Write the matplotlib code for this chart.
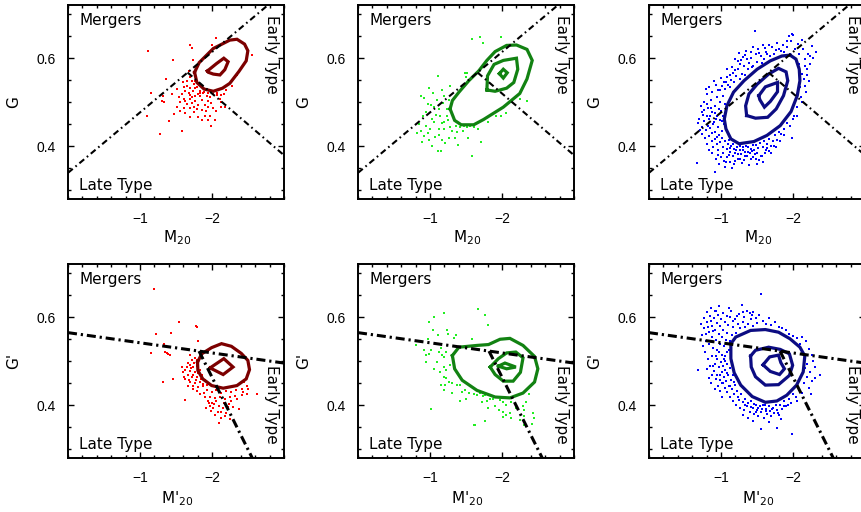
import numpy as np
import matplotlib.pyplot as plt

plt.rcParams['font.family'] = 'DejaVu Sans'
plt.rcParams['lines.scale_dashes'] = False

# ---------------- data (M20, G) ----------------
# top row: G vs M20
red_top_pts = [
    (-1.11, 0.617), (-1.70, 0.629), (-1.72, 0.623), (-2.05, 0.645), (-2.00, 0.630), (-1.46, 0.596),
    (-1.74, 0.596), (-2.45, 0.633), (-2.56, 0.607), (-2.35, 0.562), (-1.36, 0.553), (-1.15, 0.520),
    (-1.30, 0.502), (-1.34, 0.501), (-1.32, 0.515), (-1.45, 0.519), (-1.40, 0.457), (-1.58, 0.436),
    (-1.28, 0.429), (-2.04, 0.460), (-1.10, 0.468), (-1.68, 0.571), (-1.69, 0.558), (-1.72, 0.549),
    (-1.75, 0.541), (-1.65, 0.538), (-1.70, 0.532), (-1.79, 0.534), (-1.84, 0.526), (-1.74, 0.525),
    (-1.63, 0.526), (-1.58, 0.519), (-1.68, 0.521), (-1.81, 0.519), (-1.88, 0.520), (-1.93, 0.515),
    (-1.97, 0.511), (-2.02, 0.518), (-2.07, 0.517), (-2.12, 0.517), (-2.16, 0.519), (-2.11, 0.508),
    (-1.54, 0.511), (-1.61, 0.508), (-1.70, 0.508), (-1.77, 0.504), (-1.86, 0.505), (-1.95, 0.504),
    (-1.56, 0.500), (-1.65, 0.496), (-1.72, 0.498), (-1.81, 0.495), (-1.90, 0.495), (-1.99, 0.498),
    (-1.52, 0.489), (-1.61, 0.487), (-1.69, 0.487), (-1.79, 0.485), (-1.92, 0.481), (-1.75, 0.477),
    (-1.56, 0.480), (-1.63, 0.475), (-1.90, 0.470), (-1.97, 0.470), (-2.12, 0.490), (-2.18, 0.489),
    (-2.06, 0.481), (-1.47, 0.474), (-1.81, 0.466), (-2.13, 0.500), (-1.84, 0.515), (-1.77, 0.515),
    (-1.72, 0.513), (-1.76, 0.549), (-1.65, 0.549), (-1.61, 0.534), (-2.07, 0.520), (-1.89, 0.524),
    (-1.94, 0.520), (-1.77, 0.532), (-1.83, 0.522), (-1.69, 0.516), (-1.63, 0.504), (-1.95, 0.490),
    (-1.86, 0.483), (-1.75, 0.490), (-2.02, 0.487), (-1.70, 0.467), (-1.86, 0.459), (-1.99, 0.447),
    (-1.94, 0.460), (-2.20, 0.528), (-2.28, 0.537), (-1.60, 0.545), (-1.52, 0.530),
]
red_top_outer = [
    (-1.758, 0.568), (-1.822, 0.590), (-2.018, 0.622), (-2.247, 0.641), (-2.347, 0.643), (-2.452, 0.632),
    (-2.498, 0.617), (-2.475, 0.594), (-2.374, 0.570), (-2.247, 0.543), (-2.146, 0.532), (-2.018, 0.525),
    (-1.890, 0.530), (-1.790, 0.545),
]
red_top_inner = [
    (-1.936, 0.571), (-2.064, 0.588), (-2.164, 0.600), (-2.224, 0.592), (-2.178, 0.574), (-2.110, 0.562),
    (-2.018, 0.564), (-1.950, 0.568),
]

green_top_pts = [
    (-1.58, 0.644), (-1.69, 0.648), (-1.74, 0.634), (-1.98, 0.648), (-2.35, 0.620), (-1.11, 0.559),
    (-1.52, 0.566), (-1.28, 0.536), (-1.17, 0.529), (-0.98, 0.532), (-0.91, 0.509), (-0.97, 0.496),
    (-1.02, 0.494), (-1.06, 0.489), (-1.20, 0.515), (-1.26, 0.506), (-1.13, 0.485), (-1.08, 0.471),
    (-1.14, 0.468), (-1.20, 0.456), (-1.05, 0.456), (-0.94, 0.447), (-0.87, 0.434), (-0.92, 0.423),
    (-0.89, 0.411), (-0.99, 0.414), (-1.07, 0.421), (-1.13, 0.426), (-1.17, 0.414), (-1.21, 0.408),
    (-1.26, 0.419), (-1.31, 0.434), (-1.37, 0.432), (-1.42, 0.444), (-1.47, 0.447), (-1.52, 0.445),
    (-1.56, 0.447), (-1.61, 0.443), (-1.36, 0.447), (-1.28, 0.444), (-1.11, 0.389), (-1.15, 0.389),
    (-1.39, 0.404), (-1.58, 0.378), (-1.71, 0.410), (-1.92, 0.468), (-1.98, 0.468), (-2.05, 0.476),
    (-2.25, 0.508), (-2.35, 0.504), (-1.81, 0.455), (-0.88, 0.515), (-1.49, 0.566), (-1.50, 0.558),
    (-0.90, 0.470), (-1.00, 0.440), (-1.12, 0.440), (-1.23, 0.470), (-1.18, 0.498), (-1.24, 0.484),
    (-0.95, 0.478), (-1.03, 0.463), (-0.97, 0.431), (-1.03, 0.402), (-1.16, 0.452), (-1.25, 0.459),
    (-1.10, 0.505), (-1.04, 0.520), (-0.85, 0.450), (-1.46, 0.435), (-1.66, 0.440), (-1.53, 0.418),
    (-1.35, 0.420), (-1.19, 0.440), (-0.82, 0.430),
]
green_top_outer = [
    (-1.279, 0.485), (-1.342, 0.459), (-1.434, 0.449), (-1.607, 0.449), (-1.744, 0.461), (-2.018, 0.489),
    (-2.247, 0.520), (-2.347, 0.553), (-2.420, 0.595), (-2.347, 0.620), (-2.201, 0.630), (-2.064, 0.629),
    (-1.904, 0.615), (-1.790, 0.595), (-1.676, 0.571), (-1.539, 0.549), (-1.402, 0.523), (-1.311, 0.504),
]
green_top_mid = [
    (-1.790, 0.528), (-1.799, 0.560), (-1.890, 0.586), (-2.018, 0.595), (-2.201, 0.600), (-2.219, 0.575),
    (-2.164, 0.545), (-2.064, 0.532), (-1.904, 0.525),
]
green_top_inner = [(-1.963, 0.565), (-2.018, 0.575), (-2.073, 0.567), (-2.018, 0.555)]

blue_top_pts = [
    # left side
    (-0.68, 0.452), (-0.70, 0.463), (-0.73, 0.445), (-0.75, 0.471), (-0.77, 0.500), (-0.79, 0.530),
    (-0.80, 0.518), (-0.82, 0.487), (-0.83, 0.462), (-0.85, 0.441), (-0.86, 0.505), (-0.88, 0.523),
    (-0.88, 0.478), (-0.90, 0.455), (-0.91, 0.432), (-0.92, 0.492), (-0.93, 0.540), (-0.94, 0.512),
    (-0.95, 0.468), (-0.96, 0.445), (-0.97, 0.425), (-0.98, 0.500), (-0.99, 0.527), (-1.00, 0.481),
    (-1.01, 0.458), (-1.02, 0.436), (-1.03, 0.515), (-1.04, 0.547), (-1.05, 0.497), (-0.74, 0.429),
    (-0.78, 0.418), (-0.81, 0.405), (-0.84, 0.423), (-0.87, 0.412), (-0.89, 0.398), (-0.92, 0.416),
    (-0.94, 0.405), (-0.96, 0.392), (-0.99, 0.410), (-1.01, 0.420), (-1.03, 0.398), (-1.06, 0.531),
    (-1.08, 0.558), (-1.10, 0.540), (-1.00, 0.555), (-0.90, 0.548), (-0.84, 0.535), (-0.72, 0.492),
    (-0.76, 0.482), (-0.80, 0.470), (-0.86, 0.488), (-0.91, 0.475), (-0.97, 0.485), (-1.03, 0.470),
    (-1.04, 0.450), (-0.98, 0.460), (-0.93, 0.463), (-0.87, 0.430), (-0.82, 0.447), (-0.79, 0.437),
    (-0.71, 0.437), (-0.89, 0.451), (-0.85, 0.468), (-0.81, 0.497), (-0.77, 0.458), (-0.73, 0.478),
    (-0.94, 0.421), (-0.96, 0.529),
    # bottom side
    (-1.06, 0.412), (-1.08, 0.395), (-1.10, 0.405), (-1.12, 0.387), (-1.14, 0.400), (-1.16, 0.378),
    (-1.18, 0.395), (-1.20, 0.386), (-1.22, 0.398), (-1.24, 0.372), (-1.26, 0.392), (-1.28, 0.382),
    (-1.30, 0.398), (-1.32, 0.370), (-1.34, 0.388), (-1.36, 0.378), (-1.38, 0.398), (-1.40, 0.386),
    (-1.42, 0.395), (-1.44, 0.375), (-1.46, 0.392), (-1.48, 0.403), (-1.50, 0.384), (-1.52, 0.396),
    (-1.54, 0.408), (-1.56, 0.378), (-1.58, 0.398), (-1.60, 0.412), (-1.62, 0.392), (-1.64, 0.405),
    (-1.66, 0.417), (-1.69, 0.400), (-1.72, 0.412), (-1.75, 0.425), (-1.78, 0.415), (-1.81, 0.432),
    (-1.84, 0.428), (-1.88, 0.440), (-1.92, 0.452), (-1.96, 0.447), (-2.00, 0.463), (-2.05, 0.470),
    (-1.09, 0.375), (-1.13, 0.365), (-1.05, 0.353), (-1.07, 0.364), (-0.91, 0.342), (-1.19, 0.368),
    (-1.23, 0.383), (-1.29, 0.362), (-1.33, 0.378), (-1.37, 0.387), (-1.41, 0.372), (-1.47, 0.382),
    (-1.50, 0.361), (-1.57, 0.378), (-1.53, 0.370), (-1.61, 0.385), (-1.67, 0.390), (-1.73, 0.402),
    (-1.11, 0.415), (-1.17, 0.405), (-1.27, 0.400), (-1.35, 0.402), (-1.45, 0.403), (-0.67, 0.363),
    (-1.00, 0.375), (-1.03, 0.385), (-0.96, 0.380), (-1.15, 0.352), (-1.39, 0.358),
    (-0.83, 0.392), (-0.88, 0.384), (-0.93, 0.372), (-0.97, 0.361), (-1.04, 0.367), (-1.11, 0.381),
    (-1.18, 0.359), (-1.26, 0.371), (-1.31, 0.391), (-1.43, 0.389), (-1.49, 0.372), (-1.59, 0.365),
    (-1.64, 0.396), (-1.70, 0.384), (-1.77, 0.398), (-1.82, 0.412), (-1.87, 0.425), (-1.12, 0.396),
    (-1.21, 0.391),
    # upper side
    (-1.12, 0.535), (-1.14, 0.551), (-1.16, 0.566), (-1.18, 0.545), (-1.20, 0.598), (-1.21, 0.560),
    (-1.23, 0.594), (-1.24, 0.575), (-1.26, 0.553), (-1.27, 0.586), (-1.29, 0.565), (-1.31, 0.603),
    (-1.32, 0.583), (-1.34, 0.562), (-1.36, 0.598), (-1.38, 0.575), (-1.39, 0.590), (-1.41, 0.601),
    (-1.43, 0.580), (-1.45, 0.583), (-1.47, 0.662), (-1.48, 0.609), (-1.50, 0.592), (-1.53, 0.611),
    (-1.55, 0.605), (-1.57, 0.590), (-1.60, 0.599), (-1.62, 0.615), (-1.64, 0.609), (-1.66, 0.629),
    (-1.68, 0.604), (-1.71, 0.626), (-1.73, 0.609), (-1.76, 0.618), (-1.80, 0.622), (-1.83, 0.617),
    (-1.86, 0.630), (-1.88, 0.614), (-1.92, 0.625), (-1.95, 0.650), (-1.97, 0.639), (-1.98, 0.656),
    (-2.00, 0.652), (-2.03, 0.620), (-1.25, 0.611), (-1.35, 0.616), (-1.15, 0.580), (-1.09, 0.575),
    (-1.44, 0.625), (-1.58, 0.630), (-1.01, 0.538), (-1.07, 0.546), (-1.13, 0.562), (-1.19, 0.573),
    (-1.28, 0.597), (-1.33, 0.607), (-1.42, 0.613), (-1.52, 0.620), (-1.61, 0.624), (-1.78, 0.634),
    (-1.91, 0.640),
    # right side
    (-2.07, 0.632), (-2.12, 0.641), (-2.14, 0.620), (-2.16, 0.598), (-2.19, 0.575), (-2.21, 0.609),
    (-2.23, 0.586), (-2.26, 0.628), (-2.32, 0.614), (-2.15, 0.553), (-2.18, 0.523), (-2.12, 0.500),
    (-2.05, 0.490), (-2.10, 0.535), (-2.13, 0.565), (-2.28, 0.600), (-2.08, 0.610), (-2.22, 0.548),
    (-2.02, 0.468), (-1.99, 0.420), (-2.09, 0.588), (-2.17, 0.582), (-2.24, 0.604), (-2.20, 0.562),
    (-2.17, 0.537), (-2.11, 0.512),
]
blue_top_outer = [
    (-1.959, 0.607), (-2.041, 0.598), (-2.087, 0.575), (-2.096, 0.549), (-2.059, 0.515), (-1.973, 0.479),
    (-1.822, 0.447), (-1.639, 0.425), (-1.457, 0.411), (-1.251, 0.406), (-1.137, 0.417), (-1.068, 0.440),
    (-1.046, 0.462), (-1.082, 0.492), (-1.174, 0.523), (-1.320, 0.549), (-1.502, 0.575), (-1.685, 0.594),
    (-1.845, 0.605),
]
blue_top_mid = [
    (-1.356, 0.470), (-1.342, 0.492), (-1.388, 0.519), (-1.502, 0.541), (-1.662, 0.564), (-1.799, 0.577),
    (-1.904, 0.569), (-1.927, 0.549), (-1.868, 0.515), (-1.767, 0.485), (-1.648, 0.466), (-1.479, 0.464),
]
blue_top_inner = [
    (-1.525, 0.515), (-1.616, 0.535), (-1.785, 0.545), (-1.785, 0.524), (-1.685, 0.502), (-1.603, 0.489),
    (-1.539, 0.506),
]

# bottom row: G' vs M'20
red_bot_pts = [
    (-1.20, 0.664), (-1.54, 0.589), (-1.78, 0.581), (-1.79, 0.577), (-1.22, 0.562), (-1.43, 0.564),
    (-1.81, 0.547), (-1.15, 0.519), (-1.37, 0.519), (-1.41, 0.514), (-1.65, 0.529), (-1.32, 0.452),
    (-1.46, 0.459), (-1.63, 0.412), (-2.63, 0.426), (-2.10, 0.359), (-2.04, 0.378), (-2.38, 0.391),
    (-1.72, 0.502), (-1.75, 0.496), (-1.69, 0.491), (-1.65, 0.486), (-1.74, 0.486), (-1.79, 0.489),
    (-1.63, 0.480), (-1.70, 0.478), (-1.77, 0.476), (-1.84, 0.481), (-1.66, 0.468), (-1.72, 0.465),
    (-1.79, 0.465), (-1.86, 0.468), (-1.70, 0.453), (-1.77, 0.450), (-1.84, 0.453), (-1.90, 0.457),
    (-1.74, 0.444), (-1.81, 0.441), (-1.88, 0.444), (-1.61, 0.465), (-1.60, 0.476), (-1.68, 0.457),
    (-1.79, 0.502), (-1.93, 0.435), (-2.00, 0.431), (-2.06, 0.435), (-2.13, 0.427), (-2.20, 0.433),
    (-2.27, 0.431), (-2.34, 0.435), (-2.41, 0.438), (-2.48, 0.444), (-2.45, 0.453), (-1.97, 0.420),
    (-2.04, 0.416), (-2.11, 0.420), (-2.18, 0.414), (-2.25, 0.418), (-2.32, 0.421), (-2.41, 0.423),
    (-1.96, 0.405), (-2.03, 0.403), (-2.10, 0.398), (-2.16, 0.406), (-2.23, 0.403), (-2.29, 0.397),
    (-2.13, 0.386), (-2.20, 0.383), (-1.97, 0.398), (-1.89, 0.427), (-1.34, 0.539), (-1.39, 0.516),
    (-1.35, 0.520), (-1.58, 0.486), (-1.67, 0.497), (-1.71, 0.484), (-1.62, 0.459), (-1.74, 0.470),
    (-1.80, 0.473), (-1.78, 0.458), (-1.85, 0.460), (-1.87, 0.449), (-1.93, 0.447), (-1.73, 0.438),
    (-1.79, 0.432), (-1.84, 0.425), (-1.90, 0.418), (-1.95, 0.411), (-2.00, 0.405), (-2.06, 0.409),
    (-2.15, 0.395), (-2.22, 0.396), (-2.27, 0.411), (-2.35, 0.414), (-2.43, 0.430), (-2.48, 0.426),
    (-2.50, 0.437), (-2.02, 0.395), (-2.08, 0.385), (-2.18, 0.376), (-2.25, 0.370), (-1.98, 0.388),
    (-1.91, 0.395), (-2.12, 0.372), (-1.66, 0.445), (-1.70, 0.515), (-1.76, 0.508),
]
red_bot_outer = [
    (-1.799, 0.498), (-1.858, 0.517), (-1.995, 0.531), (-2.132, 0.540), (-2.269, 0.534), (-2.406, 0.518),
    (-2.498, 0.502), (-2.521, 0.481), (-2.475, 0.460), (-2.347, 0.445), (-2.155, 0.439), (-1.995, 0.445),
    (-1.872, 0.460), (-1.804, 0.479),
]
red_bot_inner = [(-1.973, 0.485), (-2.164, 0.506), (-2.292, 0.487), (-2.155, 0.470)]

green_bot_pts = [
    (-1.19, 0.610), (-1.05, 0.600), (-0.99, 0.590), (-1.67, 0.619), (-1.77, 0.604), (-1.81, 0.583),
    (-1.24, 0.570), (-1.25, 0.562), (-1.04, 0.570), (-1.11, 0.559), (-1.36, 0.559), (-1.33, 0.553),
    (-1.58, 0.551), (-0.81, 0.536), (-0.92, 0.525), (-0.95, 0.515), (-0.99, 0.517), (-1.01, 0.525),
    (-1.13, 0.521), (-1.17, 0.514), (-1.20, 0.510), (-1.22, 0.520), (-1.15, 0.530), (-0.95, 0.499),
    (-1.05, 0.483), (-1.20, 0.487), (-1.22, 0.480), (-1.28, 0.491), (-1.19, 0.465), (-1.22, 0.461),
    (-1.15, 0.446), (-1.21, 0.447), (-1.26, 0.452), (-1.31, 0.450), (-1.38, 0.446), (-1.42, 0.447),
    (-1.20, 0.434), (-1.45, 0.431), (-1.49, 0.435), (-1.54, 0.427), (-1.61, 0.425), (-1.65, 0.423),
    (-1.70, 0.427), (-1.74, 0.422), (-1.77, 0.424), (-1.42, 0.410), (-1.72, 0.407), (-1.79, 0.410),
    (-1.84, 0.414), (-1.87, 0.414), (-1.97, 0.412), (-2.02, 0.408), (-2.06, 0.401), (-2.13, 0.407),
    (-2.34, 0.407), (-1.02, 0.392), (-1.96, 0.389), (-2.02, 0.386), (-2.06, 0.378), (-2.31, 0.389),
    (-2.30, 0.377), (-2.11, 0.382), (-2.13, 0.372), (-2.43, 0.382), (-2.45, 0.371), (-1.61, 0.356),
    (-1.81, 0.393), (-2.25, 0.367), (-2.31, 0.356), (-2.38, 0.426), (-2.41, 0.358), (-2.29, 0.398),
    (-2.02, 0.373), (-1.62, 0.355), (-1.76, 0.365), (-1.08, 0.540), (-0.97, 0.550), (-1.10, 0.498),
    (-1.14, 0.475), (-1.30, 0.428), (-1.50, 0.415), (-1.90, 0.398), (-2.20, 0.395),
]
green_bot_outer = [
    (-1.311, 0.513), (-1.402, 0.532), (-1.653, 0.536), (-1.813, 0.538), (-1.973, 0.550), (-2.110, 0.552),
    (-2.292, 0.536), (-2.452, 0.511), (-2.498, 0.483), (-2.452, 0.453), (-2.292, 0.428), (-2.110, 0.417),
    (-1.904, 0.419), (-1.653, 0.434), (-1.447, 0.457), (-1.342, 0.483),
]
green_bot_mid = [
    (-1.836, 0.487), (-1.950, 0.506), (-2.064, 0.519), (-2.192, 0.521), (-2.292, 0.508), (-2.256, 0.475),
    (-2.155, 0.455), (-2.018, 0.455), (-1.904, 0.470),
]
green_bot_inner = [(-1.950, 0.489), (-2.041, 0.496), (-2.192, 0.487), (-2.064, 0.483)]

blue_bot_pts = [
    # upper-left side
    (-0.72, 0.585), (-0.74, 0.560), (-0.76, 0.598), (-0.77, 0.575), (-0.79, 0.545), (-0.80, 0.612),
    (-0.81, 0.590), (-0.83, 0.567), (-0.84, 0.540), (-0.85, 0.603), (-0.86, 0.620), (-0.87, 0.580),
    (-0.88, 0.555), (-0.89, 0.530), (-0.90, 0.598), (-0.91, 0.613), (-0.92, 0.572), (-0.93, 0.548),
    (-0.94, 0.587), (-0.95, 0.525), (-0.96, 0.605), (-0.97, 0.562), (-0.98, 0.540), (-0.99, 0.580),
    (-1.00, 0.595), (-1.01, 0.515), (-1.02, 0.555), (-1.03, 0.572), (-1.04, 0.535), (-1.05, 0.590),
    (-1.06, 0.500), (-1.07, 0.548), (-1.08, 0.565), (-1.09, 0.520), (-1.10, 0.583), (-1.11, 0.620),
    (-1.12, 0.545), (-1.13, 0.600), (-1.14, 0.615), (-1.15, 0.560), (-1.17, 0.578), (-1.19, 0.595),
    (-1.21, 0.565), (-1.23, 0.585), (-1.25, 0.608), (-1.27, 0.575), (-1.29, 0.628), (-1.30, 0.590),
    (-1.32, 0.600), (-1.34, 0.578), (-1.36, 0.615), (-1.38, 0.585), (-1.40, 0.610), (-1.42, 0.595),
    (-1.43, 0.604), (-1.45, 0.580), (-1.48, 0.598), (-1.50, 0.588), (-1.53, 0.605), (-1.56, 0.653),
    (-1.58, 0.592), (-1.62, 0.585), (-1.66, 0.598), (-1.70, 0.582), (-1.75, 0.590), (-1.80, 0.578),
    (-1.85, 0.575), (-1.90, 0.570), (-1.95, 0.563), (-2.00, 0.558),
    (-0.75, 0.535), (-0.79, 0.563), (-0.82, 0.578), (-0.86, 0.592), (-0.89, 0.568), (-0.93, 0.613),
    (-0.97, 0.626), (-1.03, 0.610), (-1.08, 0.602), (-1.16, 0.591), (-1.22, 0.602), (-1.31, 0.612),
    (-1.45, 0.612),
    # left side
    (-0.68, 0.480), (-0.78, 0.520), (-0.82, 0.505), (-0.85, 0.490), (-0.88, 0.512), (-0.90, 0.478),
    (-0.92, 0.495), (-0.94, 0.505), (-0.95, 0.470), (-0.97, 0.488), (-0.98, 0.458), (-1.00, 0.498),
    (-1.01, 0.476), (-1.02, 0.450), (-1.03, 0.490), (-1.04, 0.465), (-1.05, 0.440), (-1.06, 0.480),
    (-1.07, 0.455), (-1.08, 0.430), (-1.09, 0.495), (-1.10, 0.468), (-1.11, 0.445), (-1.12, 0.485),
    (-1.13, 0.420), (-1.14, 0.458), (-1.15, 0.437), (-1.16, 0.470), (-1.18, 0.425), (-1.20, 0.447),
    (-1.22, 0.433), (-0.96, 0.445), (-0.99, 0.432), (-1.02, 0.420), (-0.93, 0.460), (-0.88, 0.470),
    (-0.86, 0.450), (-0.91, 0.438), (-1.06, 0.512), (-1.11, 0.525), (-0.97, 0.520), (-1.04, 0.505),
    (-0.81, 0.482), (-0.84, 0.462), (-0.89, 0.489), (-0.93, 0.513), (-0.99, 0.469), (-1.03, 0.451),
    (-1.08, 0.473), (-1.13, 0.443), (-1.18, 0.452),
    # bottom side
    (-1.17, 0.410), (-1.21, 0.402), (-1.24, 0.418), (-1.26, 0.395), (-1.28, 0.425), (-1.30, 0.408),
    (-1.32, 0.390), (-1.34, 0.415), (-1.36, 0.398), (-1.38, 0.405), (-1.40, 0.385), (-1.42, 0.410),
    (-1.44, 0.395), (-1.46, 0.380), (-1.48, 0.402), (-1.50, 0.390), (-1.52, 0.375), (-1.54, 0.398),
    (-1.56, 0.385), (-1.58, 0.400), (-1.60, 0.372), (-1.62, 0.392), (-1.64, 0.380), (-1.66, 0.398),
    (-1.68, 0.387), (-1.70, 0.375), (-1.72, 0.395), (-1.74, 0.383), (-1.76, 0.400), (-1.78, 0.390),
    (-1.80, 0.378), (-1.82, 0.402), (-1.85, 0.392), (-1.88, 0.410), (-1.90, 0.398), (-1.94, 0.415),
    (-1.97, 0.405), (-2.00, 0.425), (-2.04, 0.418), (-2.08, 0.435), (-1.55, 0.347), (-1.78, 0.349),
    (-1.99, 0.336), (-1.45, 0.365), (-1.67, 0.362), (-1.84, 0.370), (-1.30, 0.378), (-1.38, 0.372),
    (-1.25, 0.413), (-1.33, 0.401), (-1.41, 0.396), (-1.49, 0.384), (-1.57, 0.392), (-1.63, 0.388),
    (-1.71, 0.392), (-1.79, 0.382), (-1.87, 0.398), (-1.93, 0.402), (-1.46, 0.404), (-1.61, 0.402),
    (-1.51, 0.395),
    # right side
    (-2.12, 0.555), (-2.18, 0.545), (-2.22, 0.528), (-2.26, 0.515), (-2.20, 0.495), (-2.28, 0.500),
    (-2.24, 0.475), (-2.30, 0.488), (-2.19, 0.465), (-2.15, 0.450), (-2.22, 0.440), (-2.12, 0.428),
    (-2.31, 0.462), (-2.06, 0.410), (-2.25, 0.425), (-2.37, 0.468), (-2.17, 0.485), (-2.27, 0.455),
    (-2.10, 0.540), (-2.05, 0.552),
]
blue_bot_outer = [
    (-1.137, 0.540), (-1.205, 0.555), (-1.411, 0.570), (-1.616, 0.572), (-1.799, 0.566), (-1.959, 0.551),
    (-2.096, 0.532), (-2.164, 0.512), (-2.142, 0.476), (-2.050, 0.446), (-1.913, 0.423), (-1.776, 0.410),
    (-1.616, 0.407), (-1.434, 0.420), (-1.274, 0.446), (-1.183, 0.474), (-1.137, 0.506),
]
blue_bot_mid = [
    (-1.411, 0.512), (-1.479, 0.525), (-1.662, 0.532), (-1.822, 0.527), (-1.950, 0.517), (-1.995, 0.491),
    (-1.950, 0.468), (-1.799, 0.447), (-1.616, 0.446), (-1.479, 0.465), (-1.420, 0.487),
]
blue_bot_inner = [
    (-1.584, 0.492), (-1.676, 0.510), (-1.799, 0.514), (-1.831, 0.497), (-1.881, 0.483), (-1.813, 0.470),
    (-1.685, 0.477),
]

# dividing lines: G = slope * M20 + intercept
merger_line_top = (-0.137, 0.34)
early_line_top = (0.14, 0.80)
merger_line_bot = (0.023, 0.565)
early_line_bot = (0.328, 1.120)

# ---------------- plotting ----------------
fig = plt.figure(figsize=(8.62, 5.12), dpi=100)

col_left = [68 / 862, 358 / 862, 649 / 862]
row_bottom = [(512 - 199.3) / 512, (512 - 458.3) / 512]
w, h = 216 / 862, 194 / 512


def draw_panel(ax, pts, contours, dot_color, line_color, lines, bottom):
    m, g = np.array(pts).T
    ax.scatter(m, g, s=3.5, marker='s', c=dot_color, linewidths=0, zorder=2)
    for c in contours:
        cm, cg = np.array(c + c[:1]).T
        ax.plot(cm, cg, color=line_color, lw=2.3, zorder=3, solid_joinstyle='miter')

    (a1, b1), (a2, b2) = lines
    m_cross = (b2 - b1) / (a1 - a2)
    xs1 = np.array([0.0, -3.0])
    xs2 = np.array([m_cross, -3.0])
    if bottom:
        lw, dash = 2.2, (6.5, 2.8, 1.6, 2.8)
    else:
        lw, dash = 1.5, (4.5, 2.5, 1.2, 2.5)
    ax.plot(xs1, a1 * xs1 + b1, color='black', lw=lw, dashes=dash, zorder=4)
    ax.plot(xs2, a2 * xs2 + b2, color='black', lw=lw, dashes=dash, zorder=4)

    ax.set_xlim(0, -3)
    ax.set_ylim(0.28, 0.72)
    ax.set_xticks([-1, -2])
    ax.set_xticks(np.arange(0, -3.01, -0.2), minor=True)
    ax.set_yticks([0.4, 0.6])
    ax.set_yticks(np.arange(0.30, 0.701, 0.05), minor=True)
    ax.tick_params(which='both', direction='in', top=True, right=True, width=1.0,
                   labelsize=10, pad=9)
    ax.tick_params(which='major', length=4.5)
    ax.tick_params(which='minor', length=2.3)
    for lab in ax.get_xticklabels() + ax.get_yticklabels():
        lab.set_family('Liberation Sans')
    for sp in ax.spines.values():
        sp.set_linewidth(1.4)

    ax.text(0.051, 0.90 if bottom else 0.897, 'Mergers', transform=ax.transAxes,
            fontsize=11, va='baseline', ha='left')
    ax.text(0.051, 0.050, 'Late Type', transform=ax.transAxes,
            fontsize=11, va='baseline', ha='left')
    ax.text(0.944, 0.479 if bottom else 0.948, 'Early Type', transform=ax.transAxes,
            fontsize=11, va='top', ha='center', rotation=-90, clip_on=False)

    ax.text(-0.253, 0.5, "G'" if bottom else 'G', transform=ax.transAxes,
            fontsize=11, rotation=90, ha='center', va='center')
    ax.text(0.505, -0.232 if bottom else -0.224, "M'$_{20}$" if bottom else 'M$_{20}$',
            transform=ax.transAxes, fontsize=11, ha='center', va='baseline')


panels = [
    (0, 0, red_top_pts, [red_top_outer, red_top_inner], '#ff0000', '#7c0000'),
    (0, 1, green_top_pts, [green_top_outer, green_top_mid, green_top_inner], '#22ee22', '#128212'),
    (0, 2, blue_top_pts, [blue_top_outer, blue_top_mid, blue_top_inner], '#0000ff', '#0c0c82'),
    (1, 0, red_bot_pts, [red_bot_outer, red_bot_inner], '#ff0000', '#7c0000'),
    (1, 1, green_bot_pts, [green_bot_outer, green_bot_mid, green_bot_inner], '#22ee22', '#128212'),
    (1, 2, blue_bot_pts, [blue_bot_outer, blue_bot_mid, blue_bot_inner], '#0000ff', '#0c0c82'),
]

for row, col, pts, cont, dc, lc in panels:
    ax = fig.add_axes([col_left[col], row_bottom[row], w, h])
    lines = (merger_line_bot, early_line_bot) if row else (merger_line_top, early_line_top)
    draw_panel(ax, pts, cont, dc, lc, lines, bottom=bool(row))

fig.savefig('out.png', dpi=100)
